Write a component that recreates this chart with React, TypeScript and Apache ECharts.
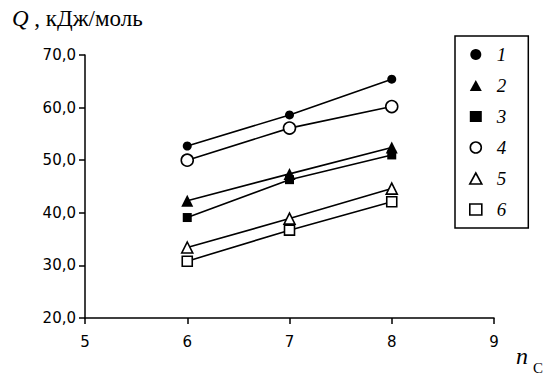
import React, { useEffect, useRef } from "react";
import * as echarts from "echarts";

const xValues = [6, 7, 8];
const seriesNames = ["1", "2", "3", "4", "5", "6"];
const s1 = [52.7, 58.6, 65.4];
const s2 = [42.3, 47.4, 52.4];
const s3 = [39.1, 46.3, 51.0];
const s4 = [50.0, 56.1, 60.2];
const s5 = [33.4, 38.9, 44.6];
const s6 = [30.8, 36.7, 42.1];
const yTicks = [20, 30, 40, 50, 60, 70];
const xTicks = [5, 6, 7, 8, 9];

export default function App() {
  const ref = useRef<HTMLDivElement>(null);
  useEffect(() => {
    document.body.style.margin = "0";
    const chart = echarts.init(ref.current!, null, { renderer: "svg" });
    const all = [s1, s2, s3, s4, s5, s6];
    const symbols = ["circle", "triangle", "rect", "circle", "triangle", "rect"];
    const sizes = [9, 12, 9, 12, 11, 10];
    const hollow = [false, false, false, true, true, true];
    const series = all.map((vals, i) => ({
      name: seriesNames[i],
      type: "line",
      data: vals.map((v, j) => [xValues[j], v]),
      symbol: symbols[i],
      symbolSize: sizes[i],
      showAllSymbol: true,
      lineStyle: { color: "#000", width: 1.6 },
      itemStyle: hollow[i]
        ? { color: "#fff", borderColor: "#000", borderWidth: 1.6 }
        : { color: "#000", borderColor: "#000", borderWidth: 0 },
      z: hollow[i] ? 3 : 4,
    }));
    chart.setOption({
      animation: false,
      backgroundColor: "#fff",
      grid: { left: 85, right: 56, top: 55, bottom: 60 },
      xAxis: {
        type: "value",
        min: xTicks[0],
        max: xTicks[xTicks.length - 1],
        interval: 1,
        axisLine: { lineStyle: { color: "#000", width: 1.5 } },
        axisTick: { show: true, inside: false, length: 6, lineStyle: { color: "#000", width: 1.5 } },
        axisLabel: { color: "#000", fontFamily: "DejaVu Sans", fontSize: 15, margin: 16 },
        splitLine: { show: false },
      },
      yAxis: {
        type: "value",
        min: yTicks[0],
        max: yTicks[yTicks.length - 1],
        interval: 10,
        axisLine: { show: true, lineStyle: { color: "#000", width: 1.5 } },
        axisTick: { show: true, inside: false, length: 6, lineStyle: { color: "#000", width: 1.5 } },
        axisLabel: {
          color: "#000",
          fontFamily: "DejaVu Sans",
          fontSize: 15,
          margin: 9,
          formatter: (v: number) => v.toFixed(1).replace(".", ","),
        },
        splitLine: { show: false },
      },
      legend: {
        orient: "vertical",
        left: 455,
        top: 36,
        width: 72,
        padding: [9, 22, 9, 14],
        itemGap: 12,
        itemWidth: 12,
        itemHeight: 11,
        borderColor: "#000",
        borderWidth: 1.5,
        backgroundColor: "#fff",
        textStyle: { fontFamily: "Liberation Serif", fontStyle: "italic", fontSize: 19, color: "#000", padding: [0, 0, 0, 10] },
        data: seriesNames.map((n, i) => ({
          name: n,
          icon: symbols[i],
          itemStyle: hollow[i]
            ? { color: "#fff", borderColor: "#000", borderWidth: 1.6 }
            : { color: "#000", borderWidth: 0 },
        })),
      },
      graphic: [
        {
          type: "text",
          left: 12,
          top: 7,
          style: {
            text: "{q|Q} {c|, кДж/моль}",
            fontFamily: "Liberation Serif",
            fontSize: 23,
            fill: "#000",
            rich: {
              q: { fontFamily: "Liberation Serif", fontStyle: "italic", fontSize: 23 },
              c: { fontFamily: "Liberation Serif", fontSize: 23 },
            },
          },
        },
        {
          type: "text",
          left: 516,
          top: 344,
          style: { text: "n", fontFamily: "Liberation Serif", fontStyle: "italic", fontSize: 24, fill: "#000" },
        },
        {
          type: "text",
          left: 533,
          top: 360,
          style: { text: "C", fontFamily: "Liberation Serif", fontSize: 15, fill: "#000" },
        },
      ],
      series,
    });
    return () => chart.dispose();
  }, []);
  return <div ref={ref} style={{ width: 550, height: 378 }} />;
}
